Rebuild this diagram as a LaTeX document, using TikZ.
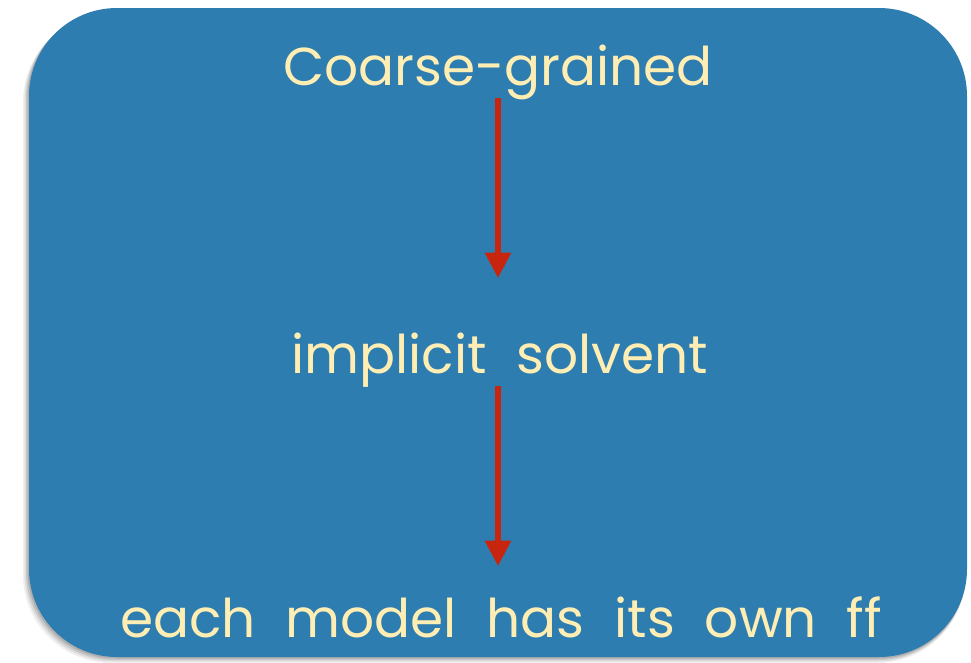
\documentclass[tikz,border=0pt]{standalone}
\usepackage{fontspec}
\setmainfont[WordSpace=2.1,Ligatures=NoCommon]{Poppins}
\usetikzlibrary{arrows.meta}
\definecolor{boxblue}{HTML}{2E7DB0}
\definecolor{cream}{HTML}{FFEEB4}
\definecolor{arrred}{HTML}{C8250F}
\tikzset{
  lbl/.style={text=cream, font=\fontsize{40}{44}\selectfont, anchor=base, inner sep=0pt},
  flow/.style={draw=arrred, line width=3.8pt, -{Triangle[width=19pt,length=19pt]}, shorten >=0pt}
}
\begin{document}
\begin{tikzpicture}[x=0.75pt,y=-0.75pt]
\useasboundingbox (0,0) rectangle (971,662);
% shadow
\foreach \o/\a in {6/0.06,4.5/0.08,3/0.1,1.5/0.12}{
  \fill[black, opacity=\a, rounded corners=66pt] (29-\o,8+\o) rectangle (967-\o*0.3,657+\o);
}
\fill[boxblue, rounded corners=66pt] (29,8) rectangle (967,657);
\node[lbl] (cg) at (498,85) {Coarse-grained};
\node[lbl] (is) at (500,373) {implicit solvent};
\node[lbl] (ff) at (501,637) {each model has its own ff};
\coordinate (a1s) at (498,98);
\coordinate (a1e) at (498,278);
\coordinate (a2s) at (498,386);
\coordinate (a2e) at (498,566);
\draw[flow] (a1s) -- (a1e);
\draw[flow] (a2s) -- (a2e);
\end{tikzpicture}
\end{document}
